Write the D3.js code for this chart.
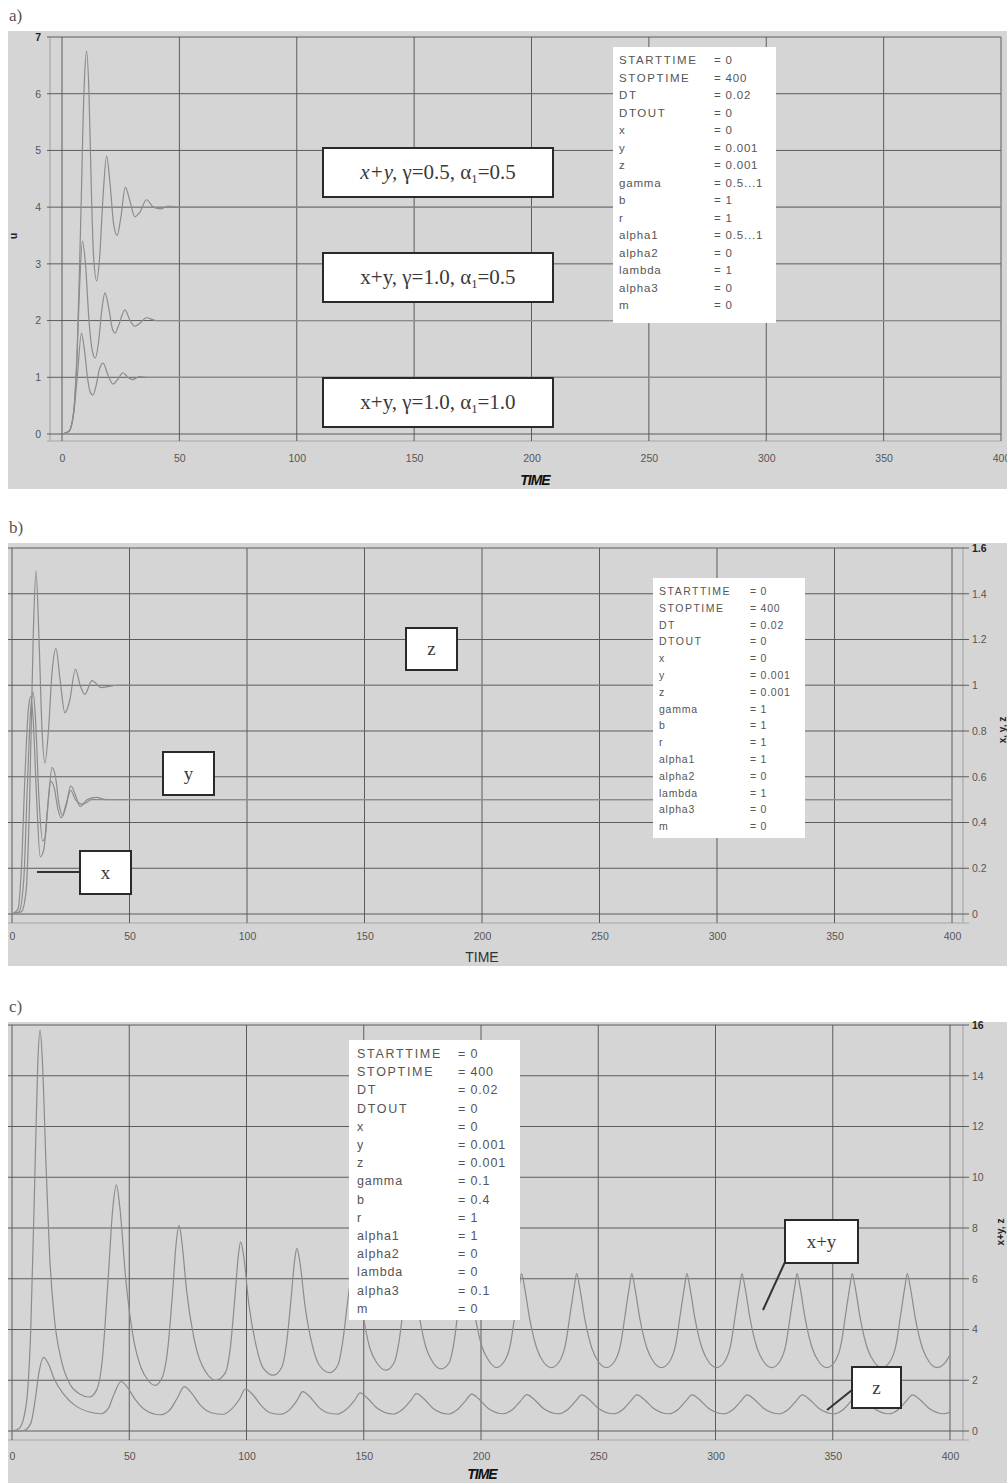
<!DOCTYPE html>
<html><head><meta charset="utf-8">
<script src="https://cdn.jsdelivr.net/npm/d3@7"></script>
<style>
body{margin:0;background:#fff;}
svg{display:block;}
</style></head><body>
<svg id="fig" width="1007" height="1483"></svg>
<script>
// ---- tick values ----
const timeTicks = [0, 50, 100, 150, 200, 250, 300, 350, 400];
const ticksA = [0, 1, 2, 3, 4, 5, 6, 7];
const ticksB = [0, 0.2, 0.4, 0.6, 0.8, 1, 1.2, 1.4, 1.6];
const ticksC = [0, 2, 4, 6, 8, 10, 12, 14, 16];

// ---- panel a: x+y for three parameter sets, [TIME, value] ----
const xyG05A05 = [[0,0],[3,0.05],[5,0.4],[6.5,1.5],[8,3.8],[9.5,6.2],[10.5,6.75],[11.5,6.0],[12.5,4.3],[13.5,3.1],[14.8,2.7],[16,3.1],[17.5,4.2],[19,4.9],[20.5,4.4],[22,3.7],[23.5,3.5],[25,3.8],[27,4.35],[29,4.1],[31,3.83],[33,3.9],[36,4.13],[39,4.0],[42,3.97],[45,4.02],[50,4.0],[400,4.0]];
const xyG10A05 = [[0,0],[3,0.05],[5,0.4],[6.5,1.5],[7.5,2.6],[8.7,3.4],[10,3.0],[11.5,2.0],[13,1.45],[14.2,1.34],[15.5,1.6],[17,2.2],[18.3,2.49],[20,2.2],[21.5,1.85],[22.6,1.78],[24,1.9],[26.8,2.19],[29,2.0],[31,1.9],[33,1.95],[36,2.05],[40,2.0],[400,2.0]];
const xyG10A10 = [[0,0],[3,0.05],[5,0.37],[6.5,1.0],[8.3,1.78],[9.5,1.5],[11,0.95],[12.2,0.72],[13.2,0.69],[14.5,0.85],[16,1.15],[17.5,1.25],[19.5,1.05],[21.7,0.88],[23.5,0.95],[26,1.08],[28,1.0],[30,0.96],[33,1.01],[37,1.0],[400,1.0]];

// ---- panel b: x, y, z ----
const seriesBz = [[0,0],[4,0.01],[6,0.1],[7.5,0.5],[9,1.2],[10.2,1.5],[11.5,1.2],[12.8,0.8],[14,0.66],[15.5,0.8],[17,1.05],[18.7,1.16],[20.5,1.02],[22.5,0.88],[24.5,0.93],[27,1.07],[29,1.0],[31,0.96],[34,1.02],[38,0.99],[45,1.0],[400,1.0]];
const seriesBy = [[0,0],[3,0.01],[5,0.15],[6.5,0.55],[8,0.9],[9,0.97],[10,0.85],[11.5,0.5],[13,0.32],[14,0.33],[15.5,0.5],[17,0.64],[18.5,0.6],[20,0.48],[21.5,0.43],[23,0.47],[25,0.56],[27,0.52],[29,0.47],[32,0.5],[36,0.51],[40,0.5],[400,0.5]];
const seriesBx = [[0,0],[2.5,0.02],[4,0.2],[5.5,0.6],[7,0.9],[8,0.95],[9,0.85],[10.5,0.5],[12,0.25],[13.5,0.28],[15,0.45],[16.5,0.58],[18,0.55],[19.5,0.46],[21,0.42],[23,0.48],[25,0.54],[27,0.5],[30,0.48],[34,0.5],[400,0.5]];

// ---- panel c: x+y and z ----
const seriesCxy = [
  [0,0],[3,0.1],[6,1.0],[8,4],[10,11],[11,14.5],[12,15.8],[13,14.5],[14.5,10.5],[16,7],[18,4.5],[21,2.8],[25,1.8],[29,1.45],[33,1.34],
  [36,1.6],[38.5,2.8],[41,6],[43,8.8],[44.5,9.7],[46,8.8],[48.5,6],[51.5,3.8],[55,2.5],[58,2.0],[61,1.8],
  [64,2.1],[66.5,3.3],[68.5,5.5],[70,7.4],[71.3,8.1],[72.5,7.4],[74.5,5.5],[77.5,3.7],[81,2.6],[87,2.0],
  [91,2.3],[93,3.2],[95,5.2],[96.5,6.9],[97.5,7.45],[98.8,6.9],[101,5.0],[104,3.4],[107,2.5],[111.5,2.2],
  [115,2.5],[117,3.4],[119,5.2],[120.5,6.7],[121.5,7.2],[122.7,6.7],[125,4.9],[128,3.4],[131,2.6],[135.5,2.3],
  [139,2.6],[141,3.5],[143,5.0],[144.8,6.2],[146,6.65],[147.2,6.2],[149.5,4.7],[152.5,3.3],[155.5,2.7],[159.5,2.4],
  [163,2.7],[165,3.5],[167,4.9],[168.8,5.9],[170,6.3],[171.2,5.9],[173.5,4.6],[176.5,3.3],[179.5,2.7],[183,2.45],
  [186.5,2.7],[188.5,3.5],[190.5,4.9],[192.8,5.8],[194,6.2],[195.2,5.8],[197.5,4.5],[200.5,3.3],[203.5,2.75],
  [206.5,2.5],[210,2.75],[212.5,3.4],[214.5,4.6],[216.3,5.7],[217.3,6.2],[218.5,5.7],[220.8,4.4],[223.8,3.25],[226.8,2.7],
  [230,2.5],[233.5,2.75],[236,3.4],[238,4.6],[239.8,5.7],[240.8,6.2],[242,5.7],[244.3,4.4],[247.3,3.25],[250.3,2.7],
  [253.5,2.5],[257,2.75],[259.5,3.4],[261.5,4.6],[263.3,5.7],[264.3,6.2],[265.5,5.7],[267.8,4.4],[270.8,3.25],[273.8,2.7],
  [277,2.5],[280.5,2.75],[283,3.4],[285,4.6],[286.8,5.7],[287.8,6.2],[289,5.7],[291.3,4.4],[294.3,3.25],[297.3,2.7],
  [300.5,2.5],[304,2.75],[306.5,3.4],[308.5,4.6],[310.3,5.7],[311.3,6.2],[312.5,5.7],[314.8,4.4],[317.8,3.25],[320.8,2.7],
  [324,2.5],[327.5,2.75],[330,3.4],[332,4.6],[333.8,5.7],[334.8,6.2],[336,5.7],[338.3,4.4],[341.3,3.25],[344.3,2.7],
  [347.5,2.5],[351,2.75],[353.5,3.4],[355.5,4.6],[357.3,5.7],[358.3,6.2],[359.5,5.7],[361.8,4.4],[364.8,3.25],[367.8,2.7],
  [371,2.5],[374.5,2.75],[377,3.4],[379,4.6],[380.8,5.7],[381.8,6.2],[383,5.7],[385.3,4.4],[388.3,3.25],[391.3,2.7],
  [394.5,2.5],[398,2.7],[400,3.0]
];
const seriesCz = [
  [0,0],[5,0.02],[8,0.3],[10,1.3],[11.5,2.3],[13.5,2.9],[15.5,2.65],[18,2.05],[22,1.45],[27,1.0],[33,0.75],[38,0.68],
  [41,0.88],[43.5,1.45],[46.5,1.95],[49,1.75],[52.5,1.25],[57,0.82],[63,0.64],
  [67,0.8],[70.5,1.3],[73.5,1.75],[76.5,1.5],[80.5,1.0],[85,0.72],[90,0.66],
  [93.5,0.85],[97,1.25],[99.5,1.65],[102.5,1.45],[106.5,0.98],[110,0.72],[114.5,0.66],
  [118.5,0.85],[121.5,1.2],[124,1.55],[127,1.35],[131,0.92],[134.5,0.72],
  [138.5,0.67],[142.5,0.85],[146,1.2],[148.5,1.5],[151.5,1.3],[155.5,0.92],
  [162.5,0.67],[166.5,0.85],[170,1.2],[172.5,1.47],[175.5,1.28],[179.5,0.9],
  [186,0.67],[190,0.85],[193.5,1.2],[196,1.45],[199,1.27],[203,0.9],
  [209.5,0.68],[213.5,0.85],[217,1.2],[219.5,1.43],[222.5,1.26],[226.5,0.9],
  [233,0.68],[237,0.85],[240.5,1.2],[243,1.42],[246,1.25],[250,0.9],
  [256.5,0.68],[260.5,0.85],[264,1.2],[266.5,1.42],[269.5,1.25],[273.5,0.9],
  [280,0.68],[284,0.85],[287.5,1.2],[290,1.42],[293,1.25],[297,0.9],
  [303.5,0.68],[307.5,0.85],[311,1.2],[313.5,1.42],[316.5,1.25],[320.5,0.9],
  [327,0.68],[331,0.85],[334.5,1.2],[337,1.42],[340,1.25],[344,0.9],
  [350.5,0.68],[354.5,0.85],[358,1.2],[360.5,1.42],[363.5,1.25],[367.5,0.9],
  [374,0.68],[378,0.85],[381.5,1.2],[384,1.42],[387,1.25],[391,0.9],
  [397.5,0.68],[400,0.75]
];

// ---- simulation settings listed in each panel ----
const paramNames = ["STARTTIME","STOPTIME","DT","DTOUT","x","y","z","gamma","b","r","alpha1","alpha2","lambda","alpha3","m"];
const paramsA = ["= 0","= 400","= 0.02","= 0","= 0","= 0.001","= 0.001","= 0.5...1","= 1","= 1","= 0.5...1","= 0","= 1","= 0","= 0"];
const paramsB = ["= 0","= 400","= 0.02","= 0","= 0","= 0.001","= 0.001","= 1","= 1","= 1","= 1","= 0","= 1","= 0","= 0"];
const paramsC = ["= 0","= 400","= 0.02","= 0","= 0","= 0.001","= 0.001","= 0.1","= 0.4","= 1","= 1","= 0","= 0","= 0.1","= 0"];

const svg = d3.select("#fig");
const GRID = "#5c5c5c", CURVE = "#8c8c8c", BG = "#d5d5d5", TXT = "#3a3a3a";
const line = (x, y) => d3.line().x(d => x(d[0])).y(d => y(d[1])).curve(d3.curveMonotoneX);

function panel(cfg) {
  const g = svg.append("g");
  g.append("rect").attr("x", cfg.bg[0]).attr("y", cfg.bg[1]).attr("width", cfg.bg[2]).attr("height", cfg.bg[3]).attr("fill", BG);
  g.append("text").attr("x", 9).attr("y", cfg.bg[1] - 10).attr("font-family", "Liberation Serif, serif")
    .attr("font-size", 17).attr("fill", "#555").text(cfg.label);

  const x = d3.scaleLinear().domain([0, 400]).range(cfg.xr);
  const y = d3.scaleLinear().domain(cfg.yd).range(cfg.yr);

  // light frame lines
  g.append("line").attr("x1", cfg.frameX).attr("x2", cfg.frameX).attr("y1", cfg.yr[1]).attr("y2", cfg.frameY)
    .attr("stroke", "#a8a8a8").attr("stroke-width", 1.2);
  g.append("line").attr("x1", cfg.gx[0]).attr("x2", cfg.gx[1]).attr("y1", cfg.frameY).attr("y2", cfg.frameY)
    .attr("stroke", "#a8a8a8").attr("stroke-width", 1.2);

  // grid
  g.selectAll(null).data(cfg.yTicks).join("line")
    .attr("x1", cfg.gx[0]).attr("x2", cfg.gx[1]).attr("y1", d => y(d)).attr("y2", d => y(d))
    .attr("stroke", GRID).attr("stroke-width", 1);
  g.selectAll(null).data(timeTicks).join("line")
    .attr("x1", d => x(d)).attr("x2", d => x(d)).attr("y1", cfg.yr[1]).attr("y2", cfg.frameY)
    .attr("stroke", GRID).attr("stroke-width", 1);

  // axes (labels only)
  const xa = g.append("g").attr("transform", `translate(0,${cfg.xLabY})`)
    .call(d3.axisBottom(x).tickValues(timeTicks).tickSize(0).tickPadding(0).tickFormat(d3.format("d")));
  xa.select(".domain").remove();
  xa.selectAll("text").attr("font-family", "Liberation Sans, Arial, sans-serif").attr("font-size", 10.5).attr("fill", "#555");

  const ya = g.append("g").attr("transform", `translate(${cfg.yLabX},0)`)
    .call((cfg.right ? d3.axisRight(y) : d3.axisLeft(y)).tickValues(cfg.yTicks).tickSize(0).tickPadding(0)
      .tickFormat(d => String(d)));
  ya.select(".domain").remove();
  ya.selectAll("text").attr("font-family", "Liberation Sans, Arial, sans-serif").attr("font-size", 10.5)
    .attr("font-weight", (d, i) => i === cfg.yTicks.length - 1 ? "bold" : null)
    .attr("fill", (d, i) => i === cfg.yTicks.length - 1 ? "#222" : "#555");

  // axis titles
  g.append("text").attr("x", cfg.timeXY[0]).attr("y", cfg.timeXY[1]).attr("text-anchor", "middle")
    .attr("font-family", "Liberation Sans, Arial, sans-serif").attr("font-size", cfg.timeBold ? 14 : 14)
    .attr("font-weight", cfg.timeBold ? "bold" : null).attr("font-style", cfg.timeBold ? "italic" : null)
    .attr("letter-spacing", cfg.timeBold ? -1 : 0).attr("fill", cfg.timeBold ? "#111" : "#333").text("TIME");
  g.append("text").attr("transform", `translate(${cfg.yTitle[0]},${cfg.yTitle[1]}) rotate(-90)`)
    .attr("text-anchor", "middle").attr("font-family", "Liberation Sans, Arial, sans-serif")
    .attr("font-size", 10).attr("font-weight", "bold").attr("fill", "#222").text(cfg.yTitle[2]);

  // curves
  const clipId = "clip" + cfg.label[0];
  svg.append("clipPath").attr("id", clipId).append("rect")
    .attr("x", cfg.xr[0]).attr("y", cfg.yr[1] - 2).attr("width", cfg.xr[1] - cfg.xr[0]).attr("height", cfg.yr[0] - cfg.yr[1] + 4);
  cfg.series.forEach(s => {
    g.append("path").attr("d", line(x, y)(s)).attr("fill", "none").attr("stroke", CURVE)
      .attr("stroke-width", 1.2).attr("clip-path", `url(#${clipId})`);
  });

  // parameter list
  const pb = cfg.pbox;
  g.append("rect").attr("x", pb.x).attr("y", pb.y).attr("width", pb.w).attr("height", pb.h).attr("fill", "#fff");
  const rows = g.selectAll(null).data(paramNames).join("g")
    .attr("transform", (d, i) => `translate(0,${pb.y0 + i * pb.dy})`)
    .attr("font-family", "Liberation Sans, Arial, sans-serif").attr("font-size", pb.fs).attr("fill", "#555");
  rows.append("text").attr("x", pb.lx).attr("letter-spacing", (d, i) => i < 4 ? pb.ls : pb.ls * 0.5).text(d => d);
  rows.append("text").attr("x", pb.vx).attr("letter-spacing", pb.ls * 0.5).text((d, i) => cfg.values[i]);

  // annotation boxes
  cfg.notes.forEach(n => {
    if (n.lead) g.append("line").attr("x1", n.lead[0]).attr("y1", n.lead[1]).attr("x2", n.lead[2]).attr("y2", n.lead[3])
      .attr("stroke", "#333").attr("stroke-width", 2);
    g.append("rect").attr("x", n.x).attr("y", n.y).attr("width", n.w).attr("height", n.h)
      .attr("fill", "#fff").attr("stroke", "#2a2a2a").attr("stroke-width", 2);
    const t = g.append("text").attr("x", n.x + n.w / 2).attr("y", n.y + n.h / 2 + n.fs * 0.33).attr("text-anchor", "middle")
      .attr("font-family", "Liberation Serif, Times New Roman, serif").attr("font-size", n.fs).attr("fill", TXT);
    n.parts.forEach(p => {
      const ts = t.append("tspan").text(p.t);
      if (p.it) ts.attr("font-style", "italic");
      if (p.sub) ts.attr("font-size", n.fs * 0.6).attr("dy", 4);
      if (p.up) ts.attr("dy", -4);
      if (p.b) ts.attr("font-weight", "bold");
    });
  });
}

const greek = (g1, a1, italic) => [
  {t: "x+y, ", it: italic}, {t: "γ=" + g1 + ", "}, {t: "α"}, {t: "1", sub: true}, {t: "=" + a1, up: true}
];

panel({
  label: "a)", bg: [8, 31, 999, 458], xr: [62, 1001], yd: [0, 7], yr: [434, 37], yTicks: ticksA,
  gx: [47, 1001], frameX: 50, frameY: 441, xLabY: 455, yLabX: 41, right: false,
  timeXY: [535, 485], timeBold: true, yTitle: [17, 236, "u"],
  series: [xyG05A05, xyG10A05, xyG10A10], values: paramsA,
  pbox: {x: 613, y: 47, w: 163, h: 276, y0: 64, dy: 17.5, lx: 619, vx: 714, fs: 11.5, ls: 1.6},
  notes: [
    {x: 323, y: 148, w: 230, h: 49, fs: 21, parts: greek("0.5", "0.5", true)},
    {x: 323, y: 253, w: 230, h: 49, fs: 21, parts: greek("1.0", "0.5", false)},
    {x: 323, y: 378, w: 230, h: 49, fs: 21, parts: greek("1.0", "1.0", false)}
  ]
});

panel({
  label: "b)", bg: [8, 543, 999, 423], xr: [12, 952], yd: [0, 1.6], yr: [914, 548], yTicks: ticksB,
  gx: [8, 969], frameX: 963, frameY: 923, xLabY: 933, yLabX: 972, right: true,
  timeXY: [482, 962], timeBold: false, yTitle: [1006, 730, "x, y, z"],
  series: [seriesBx, seriesBy, seriesBz], values: paramsB,
  pbox: {x: 653, y: 578, w: 152, h: 260, y0: 595, dy: 16.8, lx: 659, vx: 750, fs: 10.5, ls: 1.5},
  notes: [
    {x: 406, y: 628, w: 51, h: 42, fs: 19, parts: [{t: "z"}]},
    {x: 163, y: 752, w: 51, h: 43, fs: 19, parts: [{t: "y"}]},
    {x: 80, y: 851, w: 51, h: 43, fs: 19, parts: [{t: "x"}], lead: [37, 872, 80, 872]}
  ]
});

panel({
  label: "c)", bg: [8, 1022, 999, 461], xr: [12, 950], yd: [0, 16], yr: [1431, 1025], yTicks: ticksC,
  gx: [8, 969], frameX: 963, frameY: 1440, xLabY: 1453, yLabX: 972, right: true,
  timeXY: [482, 1479], timeBold: true, yTitle: [1004, 1232, "x+y, z"],
  series: [seriesCxy, seriesCz], values: paramsC,
  pbox: {x: 349, y: 1040, w: 171, h: 280, y0: 1058, dy: 18.2, lx: 357, vx: 458, fs: 12.5, ls: 1.7},
  notes: [
    {x: 785, y: 1220, w: 73, h: 43, fs: 19, parts: [{t: "x+y"}], lead: [785, 1262, 763, 1310]},
    {x: 852, y: 1367, w: 49, h: 41, fs: 19, parts: [{t: "z"}], lead: [852, 1390, 827, 1410]}
  ]
});
</script></body></html>
